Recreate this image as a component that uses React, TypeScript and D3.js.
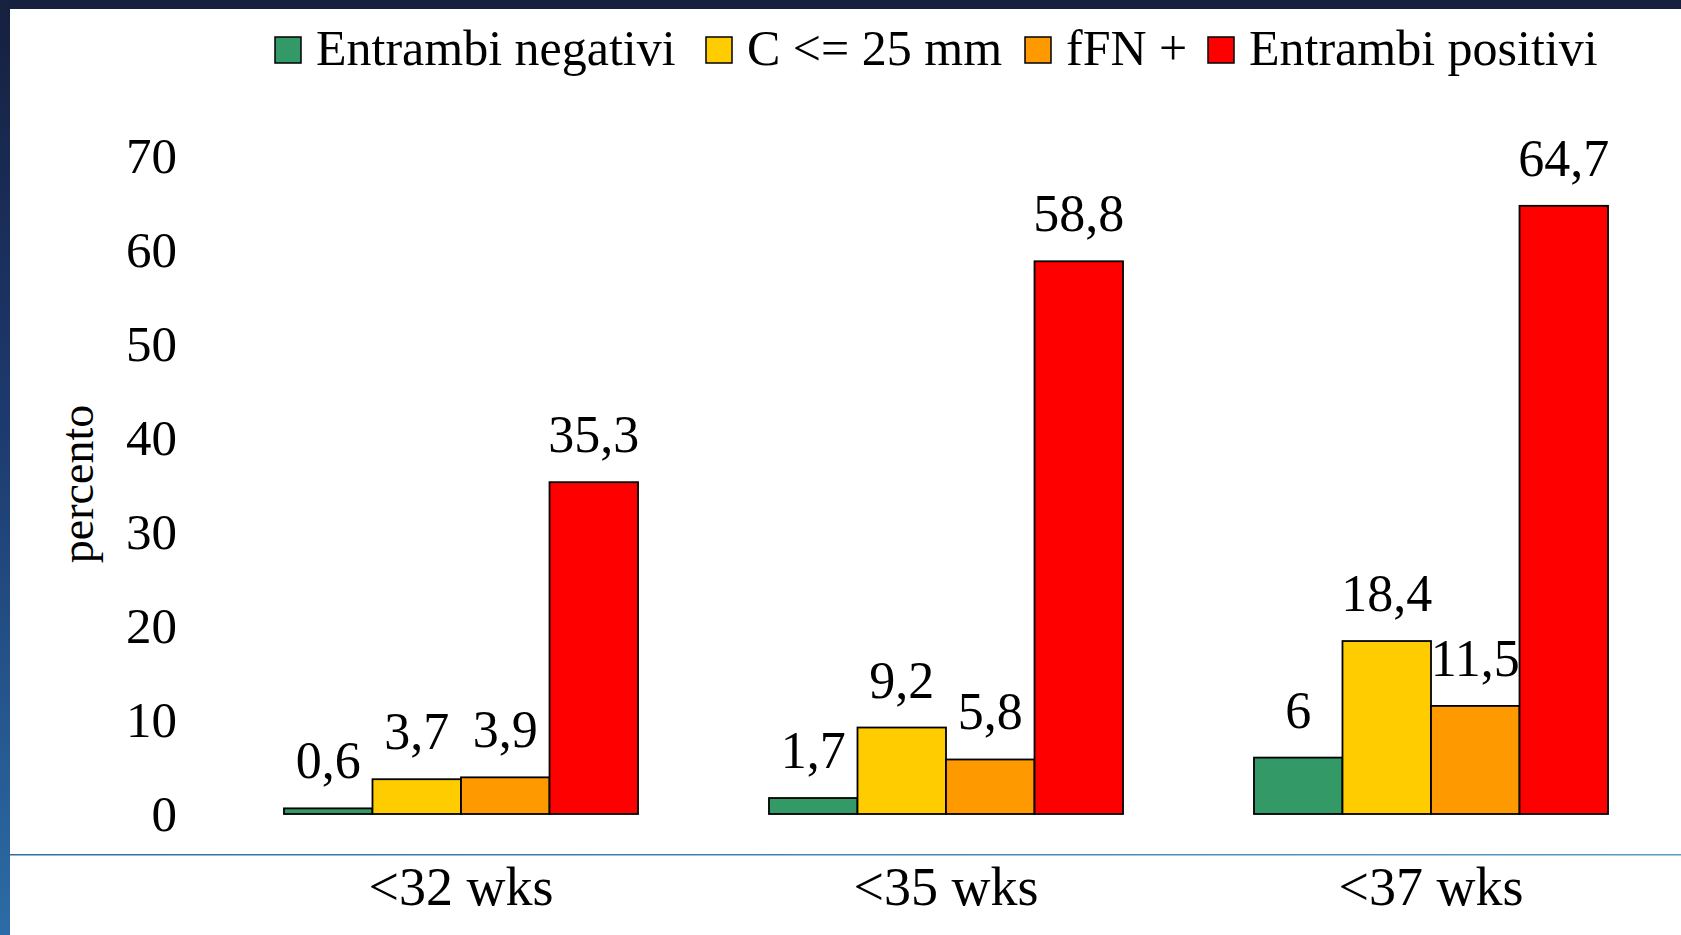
import React from "react";
import * as d3 from "d3";

const categories = ["<32 wks", "<35 wks", "<37 wks"];
const seriesNames = ["Entrambi negativi", "C <= 25 mm", "fFN +", "Entrambi positivi"];
const seriesColors = ["#339966", "#FFCC00", "#FF9900", "#FF0000"];
const entrambiNegativi = [0.6, 1.7, 6];
const cMinore25 = [3.7, 9.2, 18.4];
const fFNPos = [3.9, 5.8, 11.5];
const entrambiPositivi = [35.3, 58.8, 64.7];
const seriesValues = [entrambiNegativi, cMinore25, fFNPos, entrambiPositivi];
const yTicks = [0, 10, 20, 30, 40, 50, 60, 70];
const yTitle = "percento";

const W = 1681;
const H = 935;
const FONT = "'Liberation Serif', 'Times New Roman', serif";
const legendX = [275, 706, 1025, 1208];

const locale = d3.formatLocale({ decimal: ",", thousands: ".", grouping: [3], currency: ["", "€"] });
const fmt = (v: number) => locale.format("~g")(v);

export default function App() {
  const x0 = d3.scaleBand<string>().domain(categories).range([218.5, 1673.5]).paddingInner(0.27).paddingOuter(0.135);
  const x1 = d3.scaleBand<number>().domain(d3.range(seriesNames.length)).range([0, x0.bandwidth()]).padding(0);
  const y = d3.scaleLinear().domain([0, 70]).range([814, 156]);

  return (
    <svg width={W} height={H} style={{ position: "absolute", left: 0, top: 0, display: "block" }} fontFamily={FONT}>
      <defs>
        <linearGradient id="leftBand" x1="0" y1="0" x2="0" y2="1">
          <stop offset="0" stopColor="#16203f" />
          <stop offset="0.45" stopColor="#1d3a6e" />
          <stop offset="1" stopColor="#2c6ca6" />
        </linearGradient>
        <linearGradient id="hline" x1="0" y1="0" x2="1" y2="0">
          <stop offset="0" stopColor="#2f6ea5" />
          <stop offset="1" stopColor="#5c9bbd" />
        </linearGradient>
      </defs>
      <rect x={0} y={0} width={W} height={H} fill="#ffffff" />
      <rect x={0} y={0} width={W} height={9} fill="#16213f" />
      <rect x={0} y={0} width={10} height={H} fill="url(#leftBand)" />
      <rect x={10} y={854} width={W - 10} height={1.5} fill="url(#hline)" />

      {/* Legend */}
      {seriesNames.map((name, i) => (
        <g key={name}>
          <rect x={legendX[i]} y={37} width={26} height={26} fill={seriesColors[i]} stroke="#000" strokeWidth={1.5} />
          <text x={legendX[i] + 41} y={65} fontSize={50} fill="#000">{name}</text>
        </g>
      ))}

      {/* Y ticks */}
      {yTicks.map((t) => (
        <text key={t} x={177} y={y(t) + 17} fontSize={51} textAnchor="end" fill="#000">{t}</text>
      ))}
      <text transform={`translate(93,484) rotate(-90)`} fontSize={46} textAnchor="middle" fill="#000">{yTitle}</text>

      {/* Bars */}
      {categories.map((c, ci) => (
        <g key={c} transform={`translate(${x0(c)},0)`}>
          {seriesValues.map((vals, si) => (
            <rect
              key={si}
              x={x1(si)}
              y={y(vals[ci])}
              width={x1.bandwidth()}
              height={y(0) - y(vals[ci])}
              fill={seriesColors[si]}
              stroke="#000"
              strokeWidth={1.8}
            />
          ))}
          {seriesValues.map((vals, si) => (
            <text
              key={"l" + si}
              x={(x1(si) as number) + x1.bandwidth() / 2}
              y={y(vals[ci]) - 30}
              fontSize={52}
              textAnchor="middle"
              fill="#000"
            >
              {fmt(vals[ci])}
            </text>
          ))}
          <text x={x0.bandwidth() / 2} y={905} fontSize={54} textAnchor="middle" fill="#000">{c}</text>
        </g>
      ))}
    </svg>
  );
}
